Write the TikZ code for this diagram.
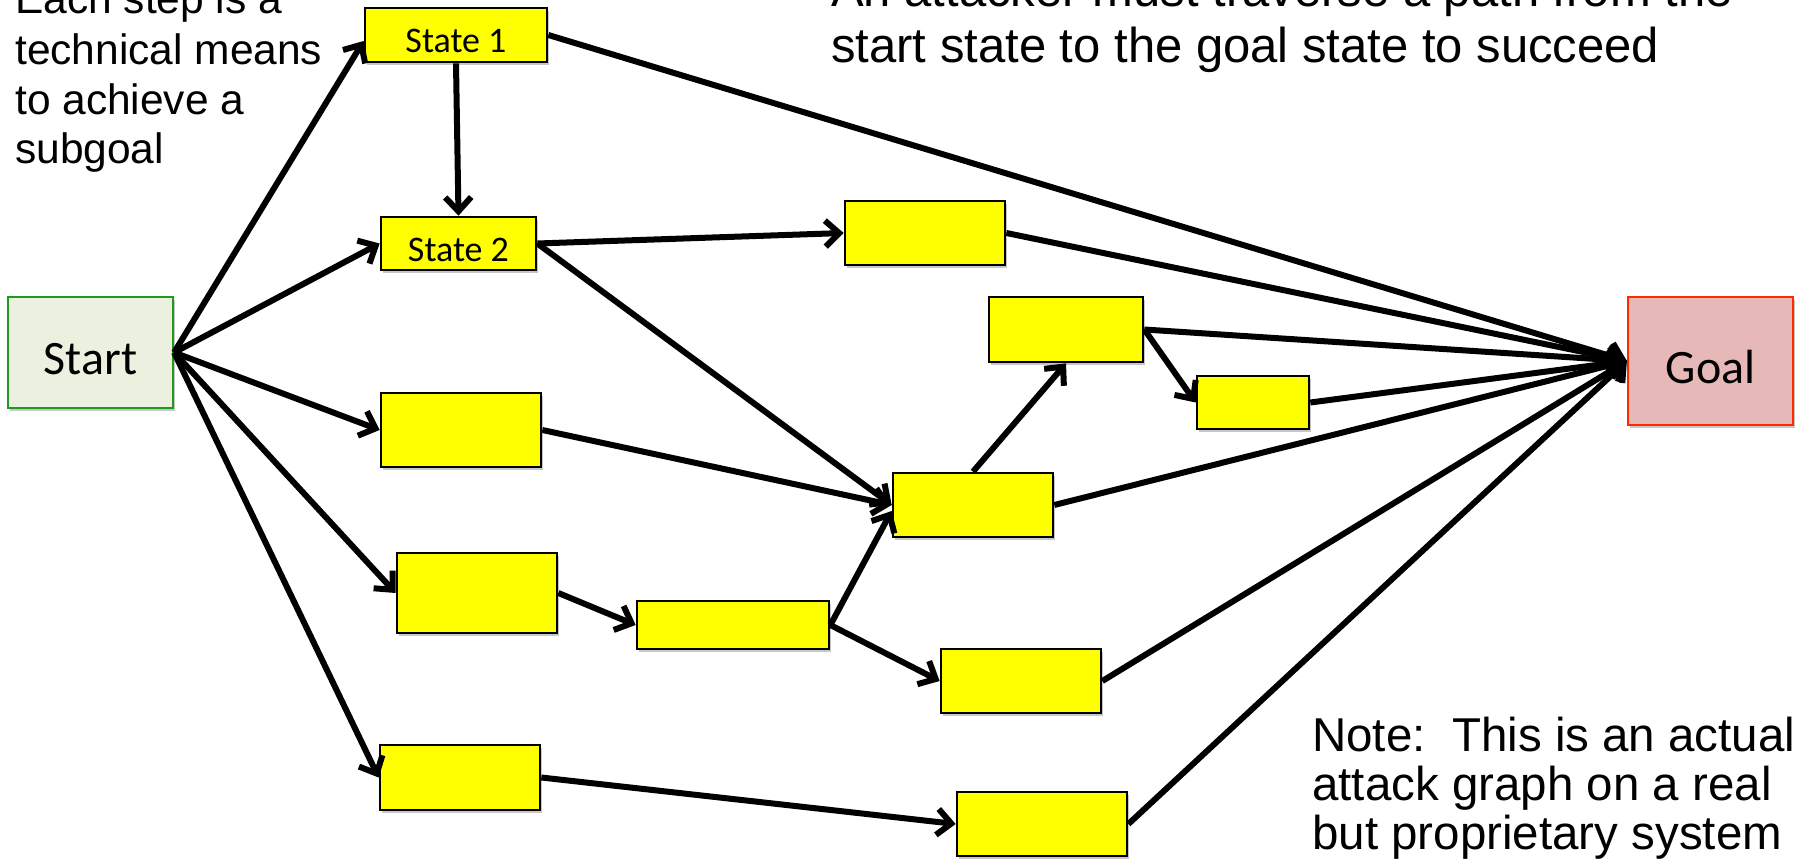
\documentclass[tikz,border=0pt]{standalone}
\usepackage{fontspec}
\setmainfont{Liberation Sans}
\newfontfamily\boxfont{Carlito}
\usetikzlibrary{arrows.meta,shadows}
\definecolor{boxyellow}{HTML}{FFFF00}
\definecolor{startfill}{HTML}{EBF1DE}
\definecolor{startedge}{HTML}{1E9A1E}
\definecolor{goalfill}{HTML}{E6B9B8}
\definecolor{goaledge}{HTML}{FF2A00}
\begin{document}
\begin{tikzpicture}[x=1pt,y=-1pt,
  softshadow/.style={drop shadow={shadow xshift=2pt,shadow yshift=-3pt,opacity=0.22,fill=black}},
  stepbox/.style={rectangle,draw=black,line width=2.7pt,fill=boxyellow,inner sep=0pt,
    font=\boxfont\fontsize{36}{40}\selectfont,text height=35pt,text depth=0pt,softshadow},
  endbox/.style={rectangle,line width=2.2pt,inner sep=0pt,
    font=\boxfont\fontsize{48}{54}\selectfont,text height=44pt,text depth=0pt,softshadow},
  note/.style={anchor=base west,inner sep=0pt},
  link/.style={line width=6pt},
  arr/.style={link,-{Straight Barb[length=14pt,width=26pt]}}]
\useasboundingbox (0,0) rectangle (1802,859);
\clip (0,0) rectangle (1802,859);

% start and goal states
\node[endbox,draw=startedge,fill=startfill,minimum width=165pt,minimum height=111pt] (start) at (90.5,352.5) {Start};
\node[endbox,draw=goaledge,fill=goalfill,minimum width=165pt,minimum height=128pt] (goal) at (1710.5,361) {Goal};

% intermediate states
\node[stepbox,minimum width=182pt,minimum height=54pt] (s1) at (456,35) {State 1};
\node[stepbox,minimum width=155pt,minimum height=53pt] (s2) at (458.5,243.5) {State 2};
\node[stepbox,minimum width=160pt,minimum height=64pt] (a) at (925,233) {};
\node[stepbox,minimum width=154pt,minimum height=65pt] (b) at (1066,329.5) {};
\node[stepbox,minimum width=112pt,minimum height=53pt] (c) at (1253,402.5) {};
\node[stepbox,minimum width=160pt,minimum height=74pt] (d) at (461,430) {};
\node[stepbox,minimum width=160pt,minimum height=64pt] (e) at (973,505) {};
\node[stepbox,minimum width=160pt,minimum height=80pt] (f) at (477,593) {};
\node[stepbox,minimum width=192pt,minimum height=48pt] (g) at (733,625) {};
\node[stepbox,minimum width=160pt,minimum height=64pt] (h) at (1021,681) {};
\node[stepbox,minimum width=160pt,minimum height=65pt] (i) at (460,777.5) {};
\node[stepbox,minimum width=170pt,minimum height=64pt] (j) at (1042,824) {};

% transitions out of the start state
\draw[arr] (start.east) -- ([yshift=-6pt]s1.west);
\draw[arr] (start.east) -- (s2.west);
\draw[arr] (start.east) -- (d.west);
\draw[arr] (start.east) -- (f.west);
\draw[arr] (start.east) -- (i.west);

% transitions between intermediate states
\draw[arr] (s1.south) -- (s2.north);
\draw[arr] (s2.east) -- (a.west);
\draw[arr] (s2.east) -- (e.west);
\draw[arr] (d.east) -- (e.west);
\draw[arr] (g.east) -- ([yshift=-6pt]e.west);
\draw[arr] (e.north) -- (b.south);
\draw[arr] (b.east) -- (c.west);
\draw[arr] (f.east) -- (g.west);
\draw[arr] (g.east) -- (h.west);
\draw[arr] (i.east) -- (j.west);

% transitions into the goal state
\foreach \src in {s1,a,b,c,e,h,j}
  \draw[arr] (\src.east) -- (goal.west);

% annotations
\begin{scope}[font=\fontsize{42.5}{50}\selectfont]
\node[note] (l1) at (15,14) {Each step is a};
\node[note] (l2) at (15,64) {technical means};
\node[note] (l3) at (15,114) {to achieve a};
\node[note] (l4) at (15,163) {subgoal};
\end{scope}
\begin{scope}[font=\fontsize{49}{56}\selectfont]
\node[note] (t1) at (831,7) {An attacker must traverse a path from the};
\node[note] (t2) at (831,63) {start state to the goal state to succeed};
\end{scope}
\begin{scope}[font=\fontsize{47.5}{54}\selectfont]
\node[note] (n1) at (1312,751) {Note:\ \ This is an actual};
\node[note] (n2) at (1312,800) {attack graph on a real};
\node[note] (n3) at (1312,849) {but proprietary system};
\end{scope}
\end{tikzpicture}
\end{document}
